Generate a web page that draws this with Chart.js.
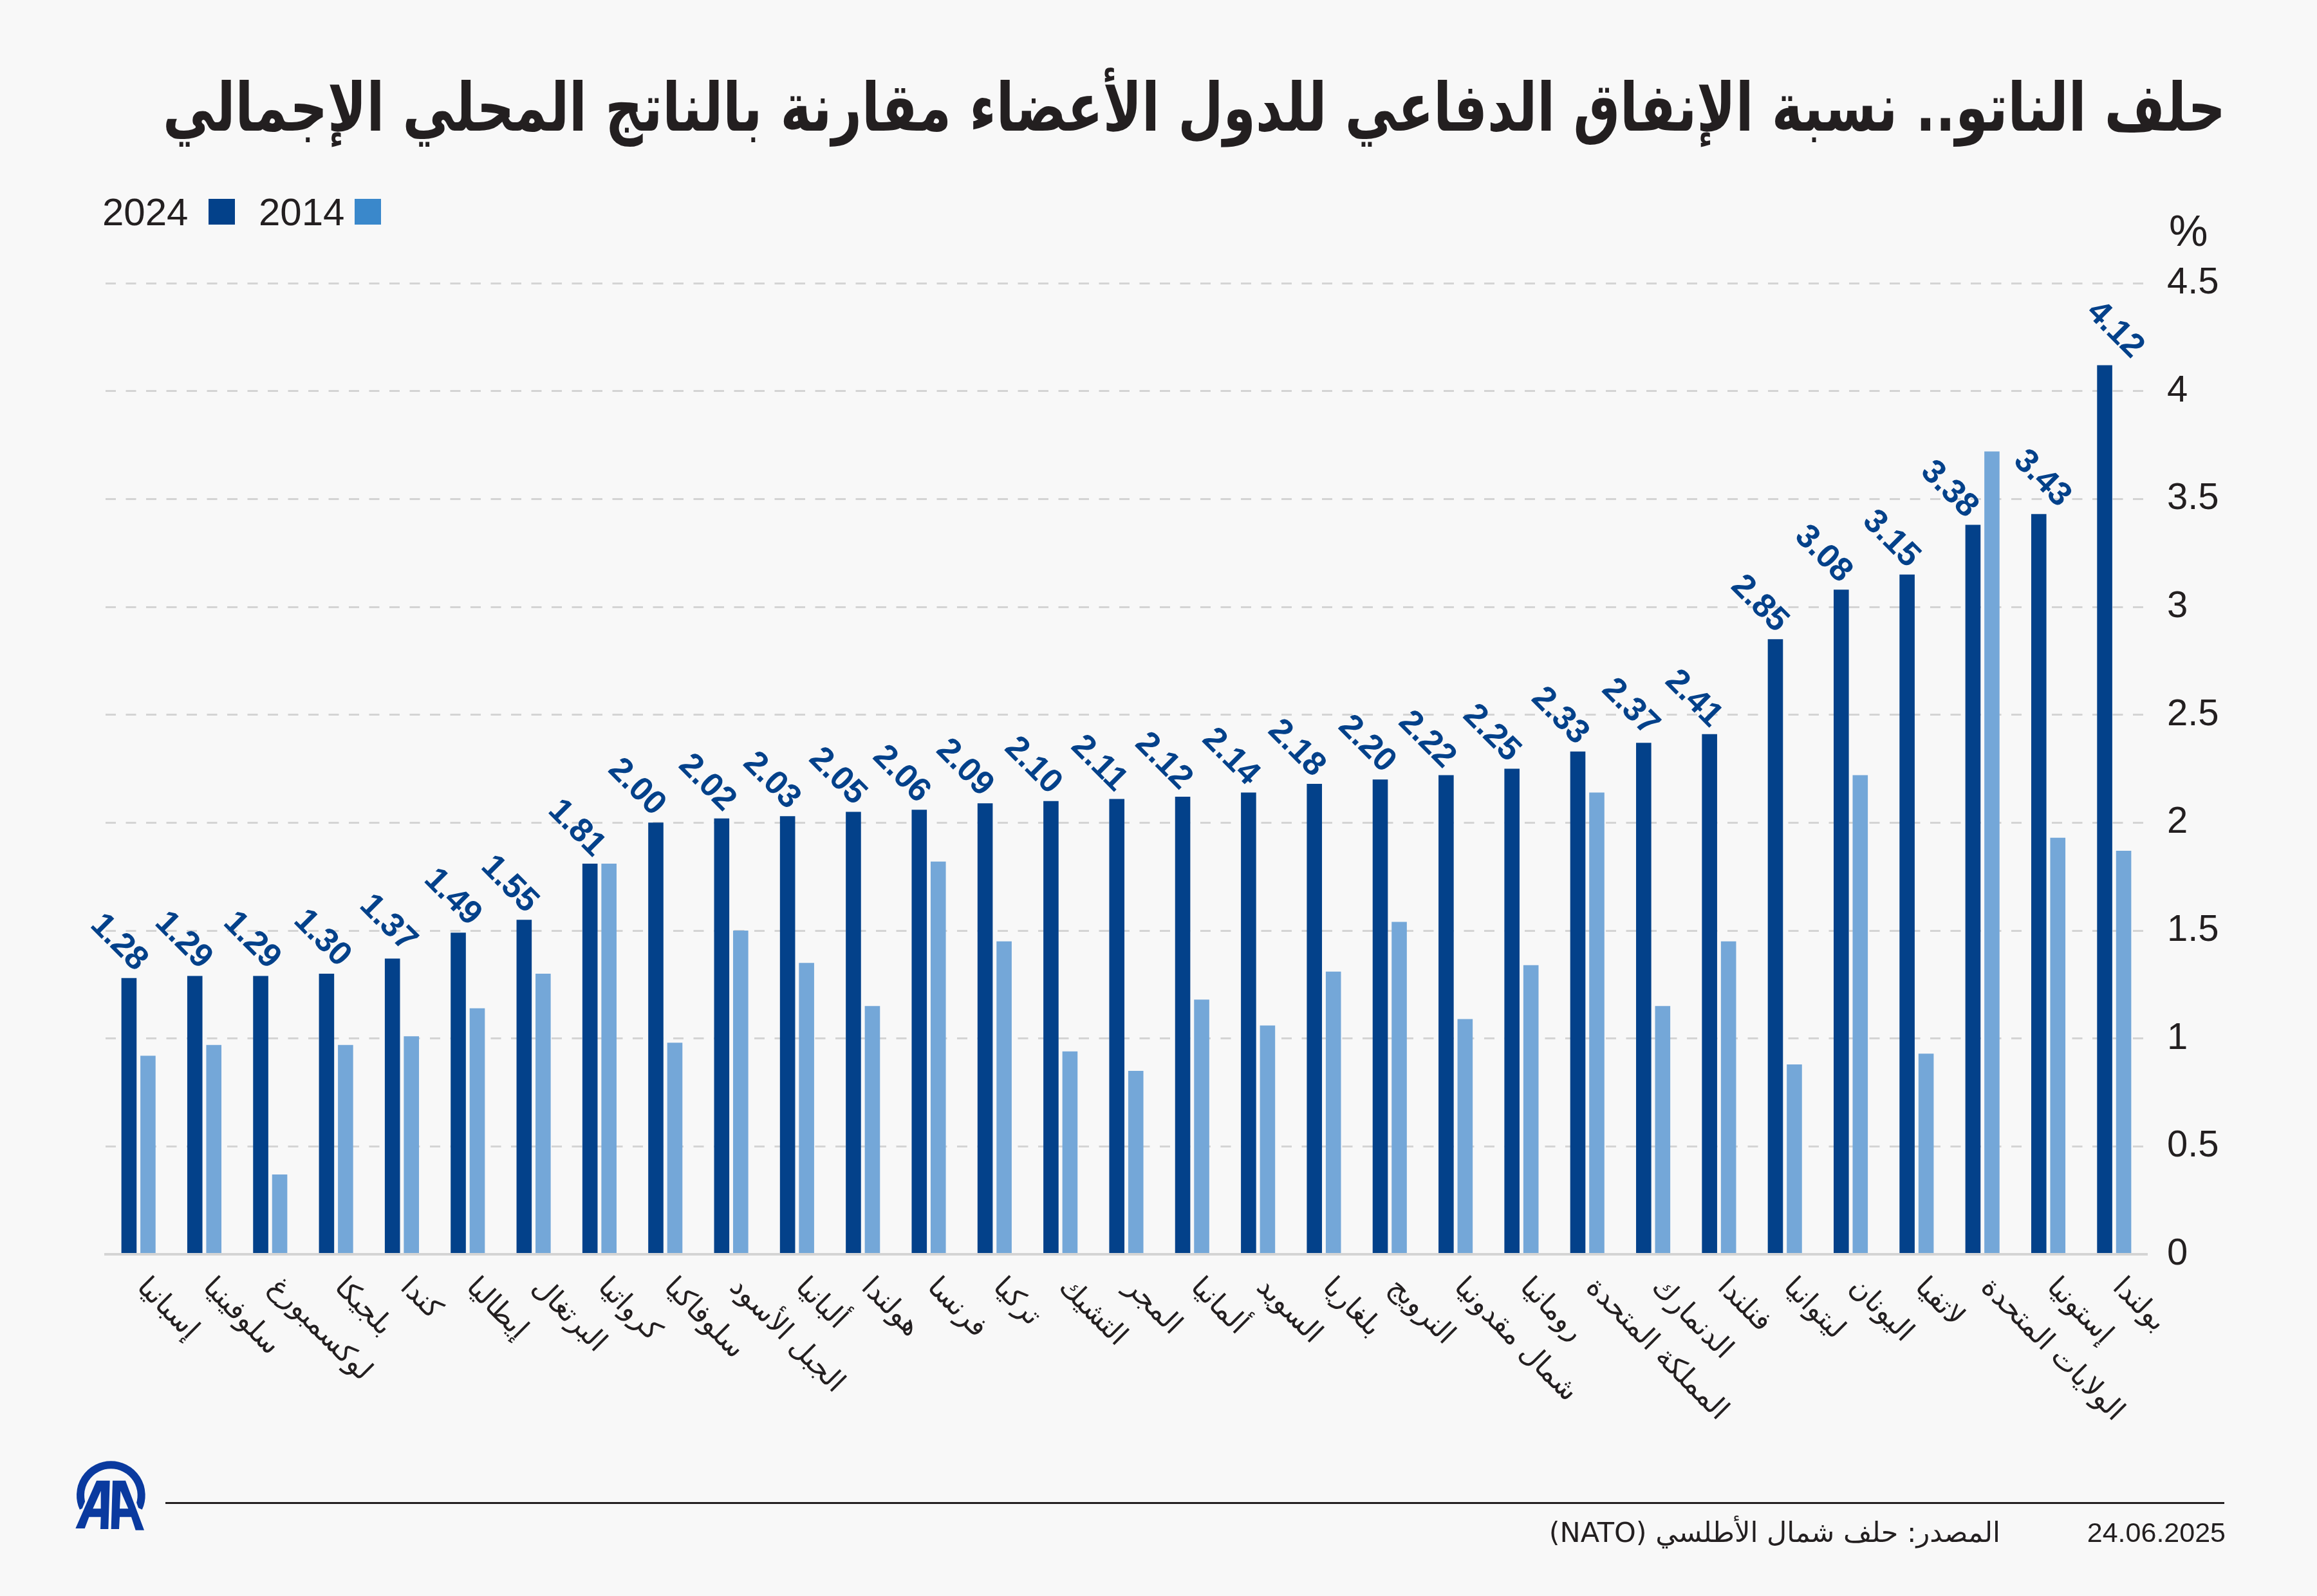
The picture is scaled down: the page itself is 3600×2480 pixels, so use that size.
<!DOCTYPE html>
<html lang="ar">
<head>
<meta charset="utf-8">
<title>حلف الناتو</title>
<script src="https://cdn.jsdelivr.net/npm/chart.js@4"></script>
<style>
html, body { margin: 0; padding: 0; background: #f8f8f8; }
canvas { display: block; }
</style>
</head>
<body>
<canvas id="nato-chart" width="3600" height="2480"></canvas>
<script>
/****************************  Data  *********************************/
var countries = ['إسبانيا', 'سلوفينيا', 'لوكسمبورغ', 'بلجيكا', 'كندا', 'إيطاليا', 'البرتغال', 'كرواتيا',
    'سلوفاكيا', 'الجبل الأسود', 'ألبانيا', 'هولندا', 'فرنسا', 'تركيا', 'التشيك', 'المجر', 'ألمانيا', 'السويد',
    'بلغاريا', 'النرويج', 'شمال مقدونيا', 'رومانيا', 'المملكة المتحدة', 'الدنمارك', 'فنلندا', 'ليتوانيا',
    'اليونان', 'لاتفيا', 'الولايات المتحدة', 'إستونيا', 'بولندا'];
var values2024 = [1.28, 1.29, 1.29, 1.30, 1.37, 1.49, 1.55, 1.81, 2.00, 2.02, 2.03, 2.05, 2.06, 2.09, 2.10, 2.11,
    2.12, 2.14, 2.18, 2.20, 2.22, 2.25, 2.33, 2.37, 2.41, 2.85, 3.08, 3.15, 3.38, 3.43, 4.12];
var values2014 = [0.92, 0.97, 0.37, 0.97, 1.01, 1.14, 1.30, 1.81, 0.98, 1.50, 1.35, 1.15, 1.82, 1.45, 0.94, 0.85,
    1.18, 1.06, 1.31, 1.54, 1.09, 1.34, 2.14, 1.15, 1.45, 0.88, 2.22, 0.93, 3.72, 1.93, 1.87];
var yTicks = [0, 0.5, 1, 1.5, 2, 2.5, 3, 3.5, 4, 4.5];
var seriesNames = ['2024', '2014'];

var titleText = 'حلف الناتو.. نسبة الإنفاق الدفاعي للدول الأعضاء مقارنة بالناتج المحلي الإجمالي';
var sourceText = 'المصدر: حلف شمال الأطلسي (NATO)';
var dateText = '24.06.2025';

// the value labels were placed by hand in the original, this is their sideways shift
var labelNudge = [-16, -18, -14, -7, -7, -9, -23, -21, -30, -23, -25, -25, -28, -32, -28, -28, -30, -28, -28, -21,
    -30, -32, -28, -21, -25, -25, -28, -25, -37, 5, 16];

/****************************  Styles  *******************************/
var ink = '#231f20', dark = '#03418a', light = '#74a7d8', legendLight = '#3a88cb', gridGrey = '#d4d4d4';
var latin = '"Liberation Sans", Arial, sans-serif', arabic = '"DejaVu Sans", sans-serif';

/****************************  Texts  ********************************/
function putText(ctx, text, x, y, font, color, align, rtl) {
    ctx.font = font;
    ctx.fillStyle = color;
    ctx.textAlign = align;
    ctx.textBaseline = 'alphabetic';
    ctx.direction = rtl ? 'rtl' : 'ltr';
    ctx.fillText(text, x, y);
}

// DejaVu is wider than the original face, so squeeze the title into the same span
function putTitle(ctx) {
    ctx.save();
    ctx.font = 'bold 104px ' + arabic;
    ctx.direction = 'rtl';
    var squeeze = 3205 / ctx.measureText(titleText).width;
    ctx.translate(3458, 203);
    ctx.scale(squeeze, 1);
    putText(ctx, titleText, 0, 0, 'bold 104px ' + arabic, ink, 'right', true);
    ctx.restore();
}

function drawLogo(ctx) {
    ctx.save();
    ctx.translate(100, 2250);
    ctx.scale(1 / 3, 1 / 3);
    ctx.strokeStyle = '#0a3a9f';
    ctx.lineWidth = 36;
    ctx.stroke(new Path2D('M88 280 A142 142 0 1 1 346 280'));
    ctx.fillStyle = '#f8f8f8';
    ctx.fill(new Path2D('M40 390 L140 140 L295 140 L385 390 Z'));
    ctx.fillStyle = '#0a3a9f';
    ctx.fill(new Path2D('M150 152 L212 152 L205 378 L168 378 L170 322 L115 322 L95 375 L52 375 Z M170 200 L133 283 L170 283 Z'), 'evenodd');
    ctx.fill(new Path2D('M225 152 L285 152 L372 383 L332 383 L312 322 L258 322 L255 378 L218 378 Z M262 200 L258 283 L298 283 Z'), 'evenodd');
    ctx.restore();
}

var chartTexts = {
    id: 'chartTexts',
    afterDraw: function(chart) {
        var ctx = chart.ctx, x = chart.scales.x, bars = chart.getDatasetMeta(0).data;
        ctx.save();

        putTitle(ctx);

        // legend, text on the left of each swatch
        putText(ctx, seriesNames[0], 159, 350, '60px ' + latin, ink, 'left', false);
        ctx.fillStyle = dark;
        ctx.fillRect(324, 309, 41, 40);
        putText(ctx, seriesNames[1], 402, 350, '60px ' + latin, ink, 'left', false);
        ctx.fillStyle = legendLight;
        ctx.fillRect(551, 309, 41, 40);

        putText(ctx, '%', 3370, 382, '68px ' + latin, ink, 'left', false);

        // country names and value labels
        for (var i = 0; i < countries.length; i++) {
            ctx.save();
            ctx.translate(x.getPixelForValue(i) + 4, 1994);
            ctx.rotate(Math.PI / 4);
            ctx.font = '44px ' + arabic;
            ctx.fillStyle = ink;
            ctx.textAlign = 'left';
            ctx.textBaseline = 'middle';
            ctx.direction = 'rtl';
            ctx.fillText(countries[i], 0, 0);
            ctx.restore();

            ctx.save();
            ctx.translate(bars[i].x + labelNudge[i], bars[i].y - 55);
            ctx.rotate(Math.PI / 4);
            ctx.font = 'bold 52px ' + latin;
            ctx.fillStyle = dark;
            ctx.textAlign = 'center';
            ctx.textBaseline = 'middle';
            ctx.direction = 'ltr';
            ctx.fillText(values2024[i].toFixed(2), 0, 0);
            ctx.restore();
        }

        // footer
        ctx.fillStyle = ink;
        ctx.fillRect(257, 2334, 3199, 3);
        putText(ctx, sourceText, 3108, 2396, '43px ' + arabic, ink, 'right', true);
        putText(ctx, dateText, 3458, 2396, '43px ' + latin, ink, 'right', false);
        drawLogo(ctx);
        ctx.restore();
    }
};

/****************************  Chart  ********************************/
var chart = new Chart(document.getElementById('nato-chart'), {
    type: 'bar',
    data: {
        labels: countries,
        datasets: [
            { label: seriesNames[0], data: values2024, backgroundColor: dark, categoryPercentage: 0.5766, barPercentage: 0.8 },
            { label: seriesNames[1], data: values2014, backgroundColor: light, categoryPercentage: 0.5766, barPercentage: 0.8 }
        ]
    },
    options: {
        responsive: false,
        animation: false,
        devicePixelRatio: 1,
        layout: { padding: { left: 164, top: 440, right: 0, bottom: 0 } },
        plugins: { legend: { display: false }, title: { display: false }, tooltip: { enabled: false } },
        scales: {
            x: {
                grid: { display: false },
                border: { color: gridGrey, width: 4, z: 1 },
                ticks: { display: false },
                afterFit: function(scale) { scale.height = 531; }
            },
            y: {
                position: 'right',
                min: 0,
                max: 4.5,
                afterBuildTicks: function(scale) {
                    scale.ticks = yTicks.map(function(v) { return { value: v }; });
                },
                grid: {
                    color: function(c) { return c.tick && c.tick.value === 0 ? 'rgba(0,0,0,0)' : gridGrey; },
                    lineWidth: 3,
                    drawTicks: false
                },
                border: { display: false, dash: [16, 15.5] },
                ticks: {
                    padding: 31,
                    crossAlign: 'near',
                    color: ink,
                    font: { family: latin, size: 58 },
                    callback: function(v) { return String(v); }
                },
                afterFit: function(scale) { scale.width = 264; }
            }
        }
    },
    plugins: [chartTexts]
});
</script>
</body>
</html>
